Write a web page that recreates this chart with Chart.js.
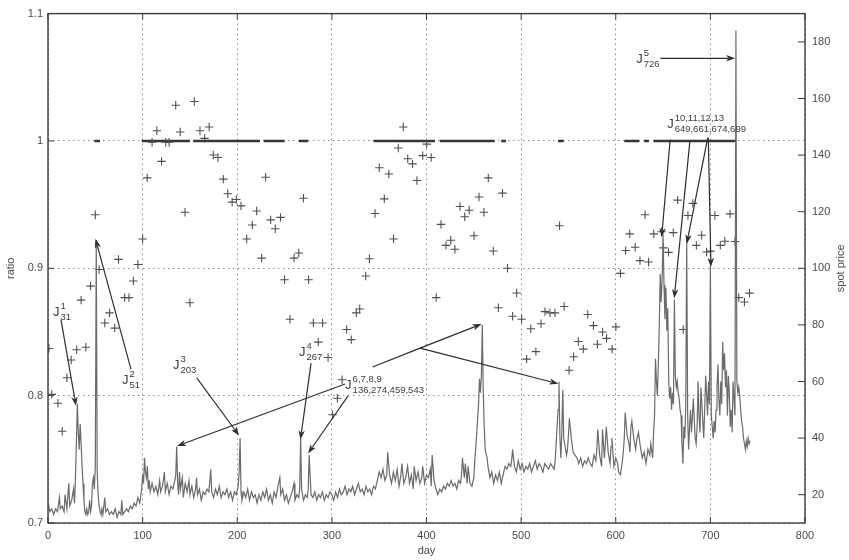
<!DOCTYPE html>
<html>
<head>
<meta charset="utf-8">
<title>ratio and spot price</title>
<script src="https://cdn.jsdelivr.net/npm/chart.js@4.4.1/dist/chart.umd.min.js"></script>
<style>
  html, body { margin: 0; padding: 0; background: #fff; }
  #wrap { width: 849px; height: 560px; }
</style>
</head>
<body>
<div id="wrap"><canvas id="chart" width="849" height="560"></canvas></div>
<script>
// tick labels
const dayTicks = [0, 100, 200, 300, 400, 500, 600, 700, 800];
const ratioTicks = [0.7, 0.8, 0.9, 1.0, 1.1];
const priceTicks = [20, 40, 60, 80, 100, 120, 140, 160, 180];

// spot price series (right axis)
const priceDays = [
  0, 2, 4, 6, 8, 10, 12, 13, 15, 17, 18, 20, 22, 23, 25, 27, 28,
  29, 30, 31, 32, 33, 34, 35, 36, 37, 38, 39, 40, 41, 42, 43, 44, 45, 46, 47, 48, 49, 50, 51, 52, 53, 54, 55, 56, 57, 58,
  60, 61, 63, 65, 67, 69, 71, 73, 75, 77, 78, 79, 81, 83, 85, 87, 89, 91, 93, 95, 97, 99,
  100, 101, 102, 103, 104, 105, 106, 107, 108, 110, 112, 114, 116, 118, 119, 121, 123, 124, 126, 128, 130, 132, 134, 135, 136, 137, 138, 139,
  140, 142, 143, 145, 147, 149, 150, 152, 154, 156, 157, 158, 160, 162, 164, 166, 168, 170, 172, 173, 175, 177, 179,
  181, 183, 185, 187, 189, 191, 193, 195, 197, 199, 201, 202, 203, 204, 205, 207, 209, 211, 213, 215, 217, 219,
  221, 223, 225, 227, 229, 231, 233, 235, 237, 239, 241, 243, 245, 246, 248, 250, 252, 254, 256, 258,
  260, 261, 263, 265, 266, 267, 268, 270, 272, 274, 275, 276, 278, 280, 282, 284, 286, 288, 290, 292, 294, 296, 298,
  300, 302, 304, 306, 308, 310, 312, 314, 316, 318, 320, 322, 324, 326, 328, 330, 332, 334, 336, 338,
  340, 342, 344, 346, 348, 350, 352, 354, 356, 358, 359, 361, 363, 365, 367, 369, 371, 373, 374, 376, 378,
  380, 382, 384, 386, 387, 389, 391, 393, 395, 396, 398, 400, 402, 404, 405, 406, 408, 410, 412, 414, 416, 418,
  420, 422, 424, 426, 428, 430, 432, 434, 436, 437, 438, 440, 441, 443, 444, 446, 448, 450, 451, 453, 455, 456, 457, 458, 459,
  460, 461, 462, 464, 465, 467, 469, 471, 473, 475, 477, 479, 481, 483, 485, 487, 489, 490, 491, 493, 495, 497, 499,
  501, 503, 505, 507, 509, 511, 513, 515, 517, 519, 521, 523, 525, 527, 529, 531, 533, 535, 536, 537, 538, 539,
  540, 541, 542, 543, 544, 545, 546, 548, 549, 550, 551, 553, 555, 557, 559, 561, 563, 565, 567, 569, 571, 573, 575, 577, 579,
  580, 581, 583, 585, 586, 588, 589, 590, 592, 594, 595, 596, 598, 600, 602, 603, 605, 607, 608, 609, 610, 612, 614, 615, 616, 617, 619,
  621, 622, 624, 626, 628, 630, 632, 634, 636, 637, 639, 640, 641, 642, 643, 644, 645, 646, 647, 648, 649,
  650, 651, 652, 653, 654, 655, 656, 657, 658, 659, 660, 661, 662, 663, 664, 665, 666, 667, 668, 669,
  670, 671, 672, 673, 674, 675, 676, 677, 678, 679, 680, 681, 682, 683, 684, 685, 686, 687, 688, 689,
  690, 691, 692, 693, 694, 695, 696, 697, 698, 699, 700, 701, 702, 703, 704, 705, 706, 707, 708, 709,
  710, 711, 712, 713, 714, 715, 716, 717, 718, 719, 720, 721, 722, 723, 724, 725, 726, 727, 728, 729,
  730, 731, 732, 733, 734, 735, 736, 737, 738, 739, 740, 741, 742
];
const priceValues = [
  17, 14, 15, 13, 15, 14, 19, 15, 16, 14, 20, 15, 24, 16, 18, 22, 17,
  26, 38, 52, 42, 36, 45, 38, 30, 24, 18, 14, 13, 15, 13, 14, 18, 14, 16, 24, 26, 22, 30, 110, 28, 20, 16, 14, 13, 15, 13,
  19, 14, 15, 13, 14, 13, 15, 12, 14, 13, 18, 13, 14, 15, 14, 16, 15, 17, 16, 19, 17, 22,
  27, 24, 33, 28, 26, 30, 22, 25, 21, 24, 21, 23, 20, 25, 21, 23, 28, 21, 24, 20, 23, 22, 25, 27, 37, 24, 20, 28,
  22, 26, 19, 24, 21, 25, 20, 23, 19, 22, 26, 20, 22, 18, 21, 20, 22, 21, 29, 21, 19, 22, 20,
  23, 19, 21, 20, 22, 19, 21, 18, 21, 20, 23, 28, 40, 21, 18, 21, 19, 22, 18, 21, 19, 20,
  17, 20, 18, 21, 19, 22, 18, 20, 17, 21, 19, 23, 26, 20, 22, 18, 20, 17, 19, 21,
  24, 18, 20, 19, 22, 40, 22, 18, 20, 19, 22, 34, 20, 19, 21, 18, 20, 19, 21, 18, 20, 19, 21,
  20, 18, 21, 19, 22, 20, 21, 23, 20, 22, 21, 23, 20, 22, 24, 21, 22, 20, 23, 21,
  22, 20, 23, 22, 25, 28, 26, 29, 25, 27, 35, 27, 24, 28, 25, 29, 23, 27, 31, 24, 26,
  30, 24, 27, 22, 30, 25, 28, 24, 26, 30, 24, 27, 26, 29, 23, 34, 25, 22, 20, 22, 21, 23,
  22, 24, 23, 25, 23, 24, 22, 25, 24, 27, 33, 26, 31, 24, 30, 24, 23, 26, 32, 41, 52, 61, 56, 62, 80, 56,
  44, 36, 33, 30, 26, 28, 24, 27, 25, 28, 24, 27, 30, 29, 31, 30, 32, 36, 30, 28, 32, 29, 31,
  28, 30, 29, 31, 28, 30, 32, 29, 31, 30, 28, 31, 30, 29, 31, 30, 29, 32, 38, 44, 50, 60,
  40, 33, 42, 57, 40, 38, 34, 36, 41, 47, 40, 35, 34, 33, 31, 33, 30, 32, 31, 33, 31, 30, 34, 32, 36,
  43, 34, 30, 43, 33, 38, 44, 35, 31, 37, 40, 30, 33, 31, 28, 27, 32, 35, 40, 49, 41, 38, 35, 44, 46, 40, 36,
  39, 42, 37, 33, 35, 31, 36, 34, 38, 33, 42, 48, 68, 60, 55, 66, 80, 98, 88, 96, 112,
  94, 82, 93, 78, 86, 60, 54, 58, 50, 56, 52, 89, 62, 58, 60, 56, 54, 50, 48, 38,
  31, 44, 40, 52, 110, 48, 36, 44, 50, 42, 48, 54, 46, 40, 38, 44, 60, 48, 42, 58,
  52, 46, 40, 50, 62, 56, 48, 60, 52, 101, 48, 44, 40, 46, 42, 50, 58, 66, 54, 48,
  60, 52, 74, 64, 70, 58, 64, 48, 62, 56, 44, 50, 42, 60, 54, 48, 184, 60, 56, 58,
  55, 50, 46, 44, 40, 38, 36, 39, 37, 40, 38, 39, 40
];

// ratio markers (left axis)
const ratioDays = [
  1, 4, 10.5, 15, 20, 24.5, 30.3, 35, 40, 45, 50, 54, 60, 65, 70.5, 74.5, 81, 85.5, 90.2, 95,
  100, 104.8, 110, 115, 120, 124.5, 128, 135, 139.7, 144.8, 150, 154.6, 160.6, 165.5, 170.3, 174.7, 179.6,
  185.3, 190, 194.6, 199, 204, 210, 215.9, 220.5, 225.8, 230, 235.3, 240.2, 245.7, 250, 255.7, 260, 265,
  270, 275.4, 280.4, 285.6, 290.2, 296, 300.7, 305.8, 310.8, 315.6, 320.5, 325.8, 329.4, 335.8, 339.7,
  345.6, 350.1, 355.4, 360.2, 365.2, 370.2, 375.5, 380.2, 385.2, 389.9, 396, 400.2, 404.9, 410.3, 415.3,
  420.6, 425.6, 430, 435.4, 440.4, 445.1, 450.2, 455.5, 460.7, 465.3, 470.6, 475.9, 480.3, 485.6, 491,
  495.3, 500.5, 505.8, 510.2, 515.6, 521, 525.2, 530.5, 535.8, 540.6, 545.5, 550.7, 555.5, 560.4, 565.7,
  570.4, 576.4, 580.6, 586.1, 590.3, 596.2, 600.2, 604.9, 610.5, 614.8, 620.5, 625.6, 631, 634.7, 640.2,
  648.5, 650.5, 655.8, 660.8, 665.4, 671.3, 676.3, 681.5, 685.2, 690.8, 696, 700, 704.8, 710.5, 715.3,
  720.8, 726, 730, 736, 741.3
];
const ratioValues = [
  0.837, 0.801, 0.794, 0.772, 0.814, 0.828, 0.836, 0.875, 0.838, 0.886, 0.942, 0.899, 0.857, 0.865, 0.853, 0.907, 0.877, 0.877, 0.890, 0.903,
  0.923, 0.971, 0.999, 1.008, 0.984, 0.999, 0.999, 1.028, 1.007, 0.944, 0.873, 1.031, 1.008, 1.002, 1.011, 0.989, 0.987,
  0.970, 0.9585, 0.952, 0.954, 0.949, 0.923, 0.934, 0.945, 0.908, 0.9715, 0.938, 0.931, 0.940, 0.891, 0.860, 0.908, 0.912,
  0.955, 0.891, 0.857, 0.842, 0.857, 0.830, 0.785, 0.798, 0.8125, 0.852, 0.844, 0.865, 0.868, 0.894, 0.9075,
  0.943, 0.979, 0.9545, 0.974, 0.923, 0.9945, 1.011, 0.986, 0.982, 0.969, 0.9885, 0.9975, 0.987, 0.877, 0.9345,
  0.918, 0.922, 0.915, 0.9485, 0.9405, 0.9456, 0.9256, 0.956, 0.944, 0.971, 0.9136, 0.869, 0.959, 0.900, 0.8624,
  0.8806, 0.860, 0.8287, 0.8525, 0.8346, 0.8565, 0.866, 0.865, 0.865, 0.9334, 0.870, 0.820, 0.8305, 0.8425, 0.8365,
  0.8637, 0.855, 0.8404, 0.850, 0.845, 0.8365, 0.854, 0.896, 0.914, 0.927, 0.9165, 0.906, 0.942, 0.905, 0.927,
  0.9287, 0.916, 0.9125, 0.928, 0.9535, 0.852, 0.9415, 0.951, 0.918, 0.926, 0.9128, 0.9135, 0.9415, 0.918, 0.9212,
  0.9427, 0.921, 0.877, 0.8735, 0.8805
];

// stretches where the ratio sits at exactly 1
const flatStart = [49, 99, 153.5, 228, 265, 344, 414, 479, 539, 609, 630, 640];
const flatEnd   = [55, 150, 224, 250, 275, 409, 472, 484, 545, 625, 635, 727];

// jump labels J^sup_sub, placed in (day, price) coordinates
const jumpLabels = [
  { day: 5.3,   price: 83,    sup: "1",            sub: "31" },
  { day: 78.2,  price: 59.1,  sup: "2",            sub: "51" },
  { day: 132.1, price: 64.4,  sup: "3",            sub: "203" },
  { day: 265.3, price: 69,    sup: "4",            sub: "267" },
  { day: 314,   price: 57.4,  sup: "6,7,8,9",      sub: "136,274,459,543" },
  { day: 654.3, price: 149.5, sup: "10,11,12,13",  sub: "649,661,674,699" },
  { day: 621.6, price: 172.6, sup: "5",            sub: "726" }
];
const arrows = [
  { from: [13.7, 81.9],  to: [29.6, 51.4],  head: true },
  { from: [87.7, 64.4],  to: [50.2, 110.4], head: true },
  { from: [157.2, 61.3], to: [202, 40.9],   head: true },
  { from: [278, 66.5],   to: [266.8, 39.5], head: true },
  { from: [314, 59.1],   to: [136.4, 37.2], head: true },
  { from: [317.1, 54.9], to: [274.8, 34.6], head: true },
  { from: [343, 65.1],   to: [393.2, 71.8], head: false },
  { from: [393.2, 71.8], to: [458.3, 80.3], head: true },
  { from: [393.2, 71.8], to: [539.4, 59.2], head: true },
  { from: [657.5, 145.4], to: [648.5, 111], head: true },
  { from: [678.4, 145.1], to: [661.8, 89.4], head: true },
  { from: [697.2, 146.1], to: [675, 108.7], head: true },
  { from: [697.8, 146.1], to: [700.6, 100.5], head: true },
  { from: [647, 174.2],  to: [726.2, 174.2], head: true }
];

const FONT = "'Liberation Sans', Arial, Helvetica, sans-serif";
const TEXT = "#4a4a4a";

function buildPoints(xs, ys) {
  return xs.map((x, i) => ({ x: x, y: ys[i] }));
}

function buildFlat() {
  let pts = [];
  flatStart.forEach((s, i) => {
    pts.push({ x: s, y: 1 });
    pts.push({ x: flatEnd[i], y: 1 });
    pts.push({ x: flatEnd[i], y: null });
  });
  return pts;
}

const decorPlugin = {
  id: "decor",
  afterDatasetsDraw(chart) {
    const ctx = chart.ctx;
    const sx = chart.scales.x, sp = chart.scales.y2;
    ctx.save();
    ctx.strokeStyle = "#2e2e2e";
    ctx.fillStyle = "#2e2e2e";
    ctx.lineWidth = 1.2;
    arrows.forEach(a => {
      const x1 = sx.getPixelForValue(a.from[0]), y1 = sp.getPixelForValue(a.from[1]);
      const x2 = sx.getPixelForValue(a.to[0]), y2 = sp.getPixelForValue(a.to[1]);
      const ang = Math.atan2(y2 - y1, x2 - x1);
      const hl = a.head ? 9 : 0;
      ctx.beginPath();
      ctx.moveTo(x1, y1);
      ctx.lineTo(x2 - Math.cos(ang) * hl * 0.8, y2 - Math.sin(ang) * hl * 0.8);
      ctx.stroke();
      if (a.head) {
        ctx.beginPath();
        ctx.moveTo(x2, y2);
        ctx.lineTo(x2 - hl * Math.cos(ang) + 3.2 * Math.sin(ang), y2 - hl * Math.sin(ang) - 3.2 * Math.cos(ang));
        ctx.lineTo(x2 - hl * 0.75 * Math.cos(ang), y2 - hl * 0.75 * Math.sin(ang));
        ctx.lineTo(x2 - hl * Math.cos(ang) - 3.2 * Math.sin(ang), y2 - hl * Math.sin(ang) + 3.2 * Math.cos(ang));
        ctx.closePath();
        ctx.fill();
      }
    });

    // J labels
    ctx.fillStyle = "#3a3a3a";
    ctx.textBaseline = "alphabetic";
    ctx.textAlign = "left";
    jumpLabels.forEach(l => {
      const x = sx.getPixelForValue(l.day), y = sp.getPixelForValue(l.price);
      ctx.font = "13px " + FONT;
      ctx.fillText("J", x, y);
      const w = ctx.measureText("J").width + 1;
      ctx.font = "9.5px " + FONT;
      ctx.fillText(l.sup, x + w, y - 7);
      ctx.fillText(l.sub, x + w, y + 4);
    });
    ctx.restore();
  },
  afterDraw(chart) {
    const ctx = chart.ctx;
    const a = chart.chartArea;
    const sx = chart.scales.x, sy = chart.scales.y, sp = chart.scales.y2;
    ctx.save();
    ctx.strokeStyle = "#3c3c3c";
    ctx.lineWidth = 1.4;
    ctx.strokeRect(a.left, a.top, a.right - a.left, a.bottom - a.top);

    // inward tick marks
    ctx.lineWidth = 1;
    ctx.beginPath();
    dayTicks.forEach(d => {
      const x = sx.getPixelForValue(d);
      ctx.moveTo(x, a.bottom); ctx.lineTo(x, a.bottom - 6);
      ctx.moveTo(x, a.top); ctx.lineTo(x, a.top + 6);
    });
    ratioTicks.forEach(r => {
      const y = sy.getPixelForValue(r);
      ctx.moveTo(a.left, y); ctx.lineTo(a.left + 6, y);
    });
    priceTicks.forEach(p => {
      const y = sp.getPixelForValue(p);
      ctx.moveTo(a.right, y); ctx.lineTo(a.right - 7, y);
    });
    ctx.stroke();

    // axis titles
    ctx.fillStyle = TEXT;
    ctx.font = "11px " + FONT;
    ctx.textAlign = "center";
    ctx.textBaseline = "middle";
    ctx.fillText("day", (a.left + a.right) / 2, 551);
    ctx.save();
    ctx.translate(11, (a.top + a.bottom) / 2);
    ctx.rotate(-Math.PI / 2);
    ctx.fillText("ratio", 0, 0);
    ctx.restore();
    ctx.save();
    ctx.translate(841, (a.top + a.bottom) / 2);
    ctx.rotate(-Math.PI / 2);
    ctx.fillText("spot price", 0, 0);
    ctx.restore();
    ctx.restore();
  }
};

const gridDotted = { color: "#8a8a8a", lineWidth: 1, drawTicks: false };

new Chart(document.getElementById("chart"), {
  type: "scatter",
  data: {
    datasets: [
      {
        label: "spot price",
        data: buildPoints(priceDays, priceValues),
        yAxisID: "y2",
        showLine: true,
        borderColor: "#6b6b6b",
        borderWidth: 1.2,
        pointRadius: 0,
        tension: 0
      },
      {
        label: "ratio",
        data: buildPoints(ratioDays, ratioValues),
        yAxisID: "y",
        pointStyle: "cross",
        pointRadius: 4.2,
        borderColor: "#4f4f4f",
        borderWidth: 1.1
      },
      {
        label: "ratio = 1",
        data: buildFlat(),
        yAxisID: "y",
        showLine: true,
        spanGaps: false,
        borderColor: "#353535",
        borderWidth: 2.6,
        pointRadius: 0
      }
    ]
  },
  options: {
    responsive: false,
    animation: false,
    devicePixelRatio: 1,
    layout: { padding: { top: 10, left: 0, right: 0, bottom: 0 } },
    plugins: { legend: { display: false }, tooltip: { enabled: false } },
    scales: {
      x: {
        type: "linear",
        min: 0, max: 800,
        afterBuildTicks: s => { s.ticks = dayTicks.map(v => ({ value: v })); },
        afterFit: s => { s.height = 37; },
        grid: Object.assign({ borderDash: [1.5, 3.5] }, gridDotted),
        border: { display: false, dash: [1.5, 3.5] },
        ticks: { color: TEXT, font: { family: FONT, size: 11 }, padding: 6, maxRotation: 0 }
      },
      y: {
        type: "linear",
        position: "left",
        min: 0.7, max: 1.1,
        afterBuildTicks: s => { s.ticks = ratioTicks.map(v => ({ value: v })); },
        afterFit: s => { s.width = 48; },
        grid: gridDotted,
        border: { display: false, dash: [1.5, 3.5] },
        ticks: {
          color: TEXT, font: { family: FONT, size: 11 }, padding: 5,
          callback: v => String(Math.round(v * 10) / 10)
        }
      },
      y2: {
        type: "linear",
        position: "right",
        min: 10, max: 190,
        afterBuildTicks: s => { s.ticks = priceTicks.map(v => ({ value: v })); },
        afterFit: s => { s.width = 44; },
        grid: { display: false, drawTicks: false },
        border: { display: false },
        ticks: { color: TEXT, font: { family: FONT, size: 11 }, padding: 7 }
      }
    }
  },
  plugins: [decorPlugin]
});
</script>
</body>
</html>
